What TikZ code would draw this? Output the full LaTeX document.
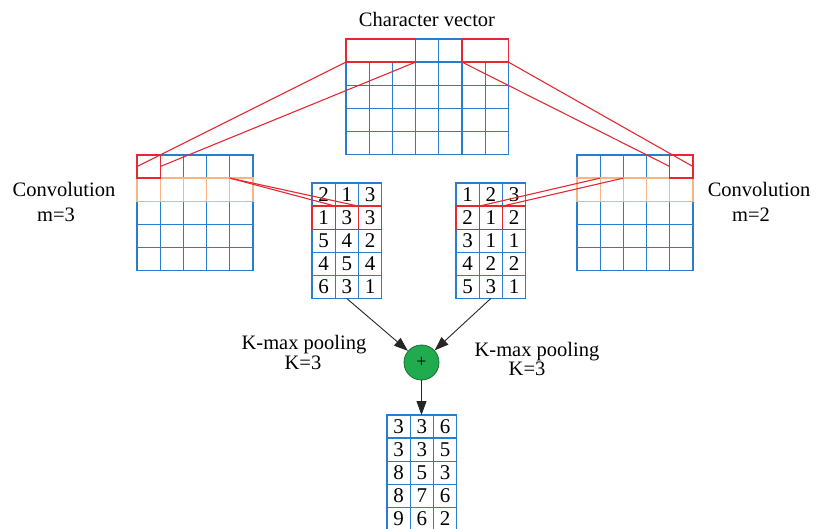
\documentclass[tikz,border=0pt]{standalone}
\usepackage{fontspec}
\setmainfont{LiberationSerif}[Extension=.ttf,UprightFont=*-Regular,BoldFont=*-Bold]
\usetikzlibrary{arrows.meta}
\definecolor{gblue}{RGB}{40,125,205}
\definecolor{gred}{RGB}{230,40,50}
\definecolor{gorange}{RGB}{248,180,130}
\definecolor{ggreen}{RGB}{32,172,78}
\definecolor{gdkgreen}{RGB}{25,110,50}
\newcommand{\mkgrid}[6]{%
  \foreach \ri in {0,...,#5}{\foreach \ci in {0,...,#4}{%
    \node[#6] (#1-\ri-\ci) at ({#2+(\ci+0.5)*23.2},{#3+(\ri+0.5)*23.1}) {};}}}
\begin{document}
\begin{tikzpicture}[x=1pt,y=-1pt,
  cell/.style={draw=gblue,line width=1.3pt,minimum width=23.2pt,minimum height=23.1pt,
    inner sep=0pt,outer sep=0pt,font=\rmfamily\fontsize{21}{22}\selectfont},
  redbox/.style={draw=gred,line width=1.3pt},
  orbox/.style={draw=gorange,line width=1.3pt},
  link/.style={draw=gred,line width=1.1pt},
  lbl/.style={font=\rmfamily\fontsize{20.5}{24}\selectfont,inner sep=0pt,anchor=base},
  arr/.style={draw=black!85,line width=0.9pt,-{Triangle[length=14pt,width=10pt]}}]
\useasboundingbox (0,0) rectangle (816,529);

% character vector
\mkgrid{cv}{346}{39}{6}{4}{cell}
\draw[redbox,fill=white] (cv-0-0.north west) rectangle (cv-0-2.south east);
\draw[redbox,fill=white] (cv-0-5.north west) rectangle (cv-0-6.south east);

% left convolution grid
\mkgrid{lc}{137}{155}{4}{4}{cell}
\foreach \ci in {0,...,4}{\draw[orbox] (lc-1-\ci.north west) rectangle (lc-1-\ci.south east);}
\draw[redbox] (lc-0-0.north west) rectangle (lc-0-0.south east);

% right convolution grid
\mkgrid{rc}{577}{155}{4}{4}{cell}
\foreach \ci in {0,...,4}{\draw[orbox] (rc-1-\ci.north west) rectangle (rc-1-\ci.south east);}
\draw[redbox] (rc-0-4.north west) rectangle (rc-0-4.south east);

% middle left matrix
\foreach \row [count=\ri from 0] in {{2,1,3},{1,3,3},{5,4,2},{4,5,4},{6,3,1}}{
  \foreach \v [count=\ci from 0] in \row {
    \node[cell] (ml-\ri-\ci) at ({312+(\ci+0.5)*23.2},{183+(\ri+0.5)*23.1}) {\v};}}
\foreach \ci in {0,1,2}{\draw[redbox] (ml-1-\ci.north west) rectangle (ml-1-\ci.south east);}

% middle right matrix
\foreach \row [count=\ri from 0] in {{1,2,3},{2,1,2},{3,1,1},{4,2,2},{5,3,1}}{
  \foreach \v [count=\ci from 0] in \row {
    \node[cell] (mr-\ri-\ci) at ({456+(\ci+0.5)*23.2},{183+(\ri+0.5)*23.1}) {\v};}}
\foreach \ci in {0,1,2}{\draw[redbox] (mr-1-\ci.north west) rectangle (mr-1-\ci.south east);}

% bottom matrix
\foreach \row [count=\ri from 0] in {{3,3,6},{3,3,5},{8,5,3},{8,7,6},{9,6,2}}{
  \foreach \v [count=\ci from 0] in \row {
    \node[cell] (bo-\ri-\ci) at ({387+(\ci+0.5)*23.2},{415+(\ri+0.5)*23.1}) {\v};}}

% red connector lines
\draw[link] (cv-1-0.north west) -- (lc-0-0.west);
\draw[link] (cv-1-2.north east) -- (lc-0-0.east);
\draw[link] (cv-1-5.north west) -- (rc-0-4.west);
\draw[link] (cv-1-6.north east) -- (rc-0-4.east);
\draw[link] (lc-1-4.north west) -- (ml-1-1.north west);
\draw[link] (lc-1-4.north west) -- (ml-1-1.north east);
\draw[link] (rc-1-1.north west) -- (mr-1-1.north west);
\draw[link] (rc-1-1.north east) -- (mr-1-1.north east);

% sum node and arrows
\node[circle,fill=ggreen,draw=gdkgreen,line width=0.8pt,minimum size=35pt,inner sep=0pt]
  (plus) at (421.5,362.5) {\rmfamily\fontsize{18}{18}\selectfont +};
\draw[arr] (ml-4-1.south) -- (plus);
\draw[arr] (mr-4-1.south) -- (plus);
\draw[arr] (plus) -- (plus |- bo-0-1.north);

% labels
\node[lbl] (title) at (427,27) {Character vector};
\node[lbl] (convl) at (64,197) {Convolution};
\node[lbl] (ml3) at (56,222) {m=3};
\node[lbl] (convr) at (759,197) {Convolution};
\node[lbl] (mr2) at (751,222) {m=2};
\node[lbl] (kl) at (304,349.5) {K-max pooling};
\node[lbl] (kl3) at (303,369.5) {K=3};
\node[lbl] (kr) at (537,356.5) {K-max pooling};
\node[lbl] (kr3) at (527,375.5) {K=3};
\end{tikzpicture}
\end{document}
